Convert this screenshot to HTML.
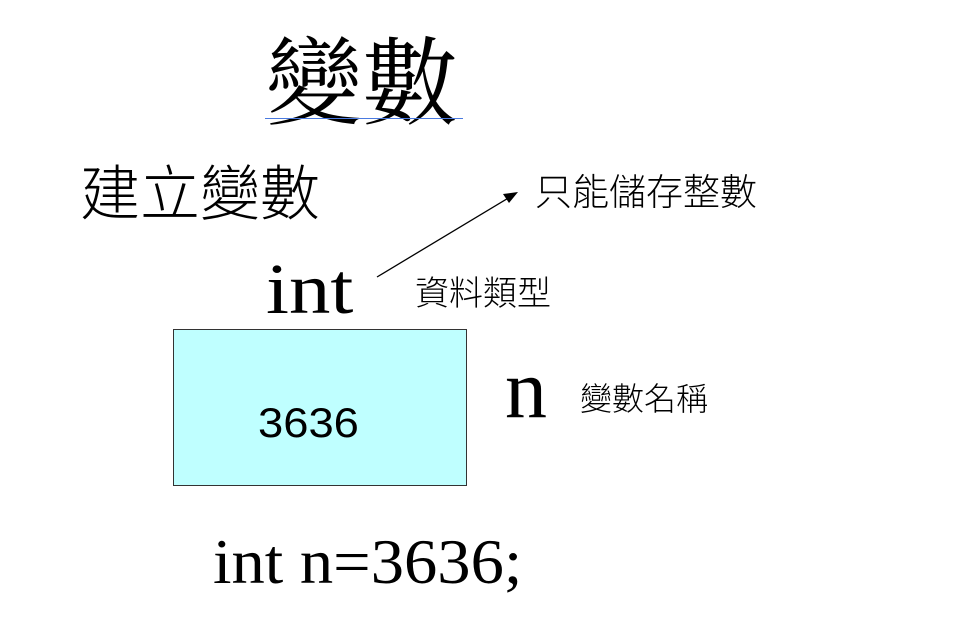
<!DOCTYPE html>
<html><head><meta charset="utf-8"><style>
body{margin:0;width:970px;height:636px;background:#fff;position:relative;overflow:hidden}
.t{position:absolute;white-space:nowrap;line-height:1;color:#000;transform-origin:0 0}
.serif{font-family:"Liberation Serif","Noto Serif CJK TC",serif}
.sans{font-family:"Liberation Sans","Noto Sans CJK TC",sans-serif}
</style></head><body>
<div class="t serif" style="left:266px;top:37px;font-size:96px">變數</div>
<div style="position:absolute;left:265px;top:118px;width:198px;height:1px;background:#4a7ae0"></div>
<div class="t sans" style="left:80px;top:165px;font-size:60px;font-weight:300">建立變數</div>
<div class="t sans" style="left:535px;top:174px;font-size:37px;font-weight:300">只能儲存整數</div>
<div class="t sans" style="left:415px;top:277px;font-size:34px;font-weight:300">資料類型</div>
<div class="t sans" style="left:580px;top:383px;font-size:32px;font-weight:300">變數名稱</div>
<div class="t serif" style="left:266px;top:253px;font-size:72px;transform:scaleX(1.15)">int</div>
<div class="t serif" style="left:505px;top:348px;font-size:84px">n</div>
<div style="position:absolute;left:173px;top:329px;width:292px;height:155px;background:#bfffff;border:1px solid #333"></div>
<div class="t sans" style="left:258px;top:402px;font-size:42px;transform:scaleX(1.08)">3636</div>
<div class="t serif" style="left:213px;top:530px;font-size:64px;transform:scaleX(1.04)">int n=3636;</div>
<svg style="position:absolute;left:0;top:0" width="970" height="636">
<line x1="377" y1="277" x2="510" y2="197" stroke="#000" stroke-width="1.3"/>
<polygon points="518,192 503,194 509,203" fill="#000"/>
</svg>
</body></html>
